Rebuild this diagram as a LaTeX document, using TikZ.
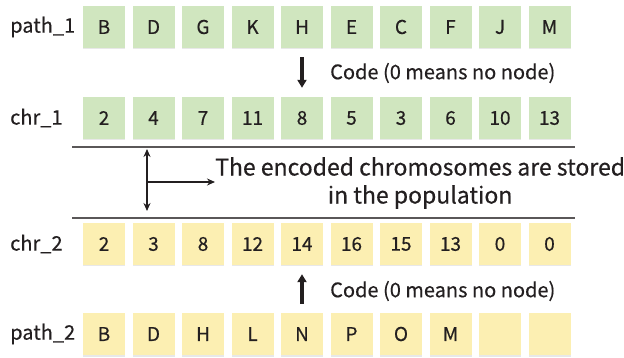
\documentclass[tikz,border=0pt]{standalone}
\usepackage{fontspec}
\setmainfont{Noto Sans CJK KR}[FakeBold=0.4]
\usetikzlibrary{arrows.meta, shadows}

\definecolor{cellgreen}{HTML}{D0E6BF}
\definecolor{cellyellow}{HTML}{FCEFB2}
\definecolor{ink}{HTML}{231F20}

\tikzset{
  cell/.style={minimum size=42pt, inner sep=0pt, text=ink,
    font=\fontsize{19}{20}\selectfont,
    drop shadow={shadow xshift=0pt, shadow yshift=-1.5pt, opacity=0.18}},
  rowlabel/.style={anchor=west, inner sep=0pt, text=ink,
    font=\fontsize{20}{22}\selectfont},
  codearrow/.style={-{Triangle[width=9pt,length=8pt]}, line width=3.5pt, ink,
    shorten <=9pt, shorten >=9pt},
}

\begin{document}
\begin{tikzpicture}[x=1pt, y=-1pt]
        \useasboundingbox (0,0) rectangle (624,358);

        % Row labels:
        \node [rowlabel] (lp1) at (10,27)  {path\_1};
        \node [rowlabel] (lc1) at (10,118) {chr\_1};
        \node [rowlabel] (lc2) at (10,244) {chr\_2};
        \node [rowlabel] (lp2) at (10,334) {path\_2};

        % Cells:
        \foreach \lab [count=\i] in {B,D,G,K,H,E,C,F,J,M}{%
        \node [cell, fill=cellgreen] (p1-\i) at ({104+(\i-1)*49.5},27) {\lab};
        }
        \foreach \lab [count=\i] in {2,4,7,11,8,5,3,6,10,13}{%
        \node [cell, fill=cellgreen] (c1-\i) at ({104+(\i-1)*49.5},118) {\lab};
        }
        \foreach \lab [count=\i] in {2,3,8,12,14,16,15,13,0,0}{%
        \node [cell, fill=cellyellow] (c2-\i) at ({104+(\i-1)*49.5},244) {\lab};
        }
        \foreach \lab [count=\i] in {B,D,H,L,N,P,O,M,{},{}}{%
        \node [cell, fill=cellyellow] (p2-\i) at ({104+(\i-1)*49.5},334) {\lab};
        }

        % Coding arrows:
        \draw [codearrow] (p1-5) -- (c1-5);
        \node [rowlabel] (code1) at (330,73) {Code (0 means no node)};
        \draw [codearrow] (p2-5) -- (c2-5);
        \node [rowlabel] (code2) at (330,291) {Code (0 means no node)};

        % Population block:
        \draw [line width=1.2pt, ink!75] (72,147) -- (575,147);
        \draw [line width=1.2pt, ink!75] (72,218) -- (575,218);
        \node [anchor=west, align=center, inner sep=0pt, text=ink,
               font=\fontsize{23}{28}\selectfont] (note) at (215,183)
               {The encoded chromosomes are stored\\in the population};
        \coordinate (top) at (147,149);
        \coordinate (bot) at (147,211);
        \coordinate (mid) at (147,182);
        \draw [{Stealth[length=8pt,width=7pt]}-{Stealth[length=8pt,width=7pt]},
               line width=2.4pt, ink] (top) -- (bot);
        \draw [-{Stealth[length=8pt,width=7pt]}, line width=2.4pt, ink]
               (mid) -- (note.west |- mid);

    \end{tikzpicture}
\end{document}
